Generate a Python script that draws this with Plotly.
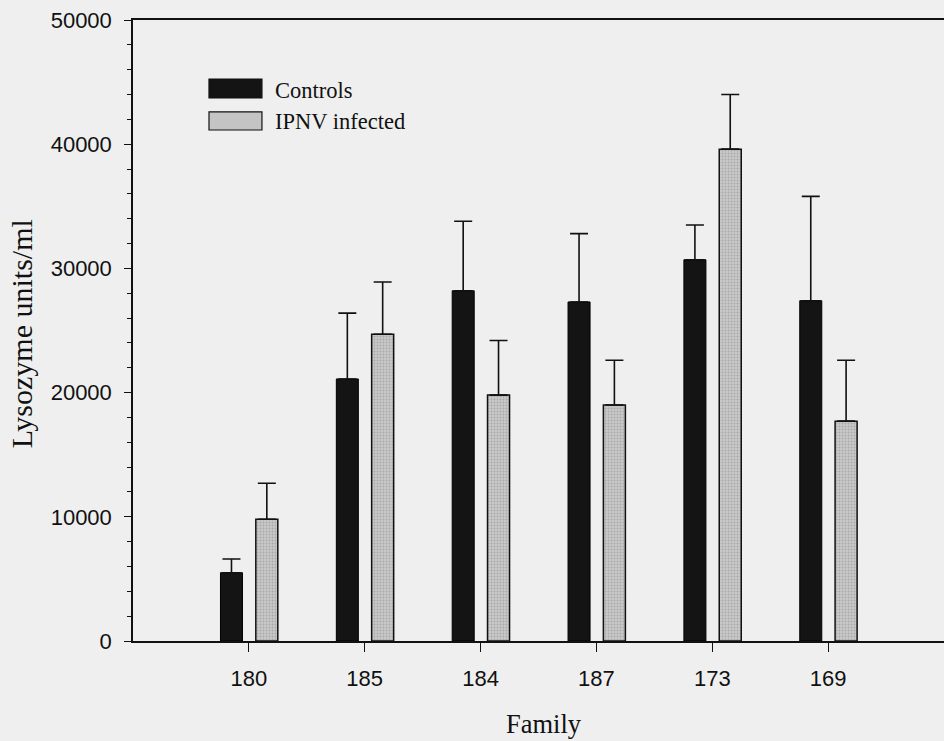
import plotly.graph_objects as go

families = ["180", "185", "184", "187", "173", "169"]
controls = [5500, 21100, 28200, 27300, 30700, 27400]
controls_err = [1100, 5300, 5600, 5500, 2800, 8400]
infected = [9800, 24700, 19800, 19000, 39600, 17700]
infected_err = [2900, 4200, 4400, 3600, 4400, 4900]
series_names = ["Controls", "IPNV infected"]

y_ticks = [0, 10000, 20000, 30000, 40000, 50000]

bg = "#efefef"
dark = "#141414"
grey = "#c4c4c4"
xpos = list(range(len(families)))

fig = go.Figure()
fig.add_trace(go.Bar(
    name=series_names[0], x=xpos, y=controls, width=0.19, offset=-0.245,
    marker=dict(color=dark, line=dict(color="#000000", width=1)),
    error_y=dict(type="data", array=controls_err, arrayminus=[0]*6, symmetric=False,
                 color="#111111", thickness=1.6, width=9),
))
fig.add_trace(go.Bar(
    name=series_names[1], x=xpos, y=infected, width=0.19, offset=0.06,
    marker=dict(color=grey, line=dict(color="#111111", width=1.5),
                pattern=dict(shape=".", fgcolor="#8a8a8a", bgcolor="#c8c8c8", size=3, solidity=0.3)),
    error_y=dict(type="data", array=infected_err, arrayminus=[0]*6, symmetric=False,
                 color="#111111", thickness=1.6, width=9),
))

# Legend drawn as swatches + text (paper coordinates)
legend_font = dict(family="Liberation Serif", size=22.5, color="#111")
swatches = [(0.905, 0.8745, dark), (0.8519, 0.8229, grey)]
text_y = [0.887, 0.836]
shapes = []
annotations = []
for (y1, y0, col), ty, nm in zip(swatches, text_y, series_names):
    shapes.append(dict(type="rect", xref="paper", yref="paper", x0=0.0937, x1=0.159,
                       y0=y0, y1=y1, fillcolor=col, line=dict(color="#111", width=1.2)))
    annotations.append(dict(text=nm, xref="paper", yref="paper", x=0.1725, y=ty,
                            xanchor="left", yanchor="middle", showarrow=False, font=legend_font))

annotations.append(dict(text="Lysozyme units/ml", xref="paper", yref="paper",
                        x=-0.138, y=0.494, textangle=-90, xanchor="center", yanchor="middle",
                        showarrow=False, font=dict(family="Liberation Serif", size=30, color="#111")))
annotations.append(dict(text="Family", xref="paper", yref="paper",
                        x=0.507, y=-0.134, xanchor="center", yanchor="middle",
                        showarrow=False, font=dict(family="Liberation Serif", size=26.5, color="#111")))

fig.update_layout(
    width=944, height=741,
    margin=dict(l=133, r=0, t=20, b=100),
    paper_bgcolor=bg, plot_bgcolor=bg,
    barmode="overlay",
    showlegend=False,
    shapes=shapes, annotations=annotations,
    font=dict(family="Liberation Sans", color="#111"),
)
fig.update_xaxes(
    range=[-1, 6], tickmode="array", tickvals=xpos, ticktext=families,
    showline=True, linecolor="#111", linewidth=1.5, mirror=True,
    ticks="outside", ticklen=9, tickcolor="#111", tickwidth=1,
    ticklabelstandoff=8, tickfont=dict(size=22, family="Liberation Sans"),
    showgrid=False, zeroline=False,
)
fig.update_yaxes(
    range=[0, 50000], tickvals=y_ticks, ticktext=[str(v) for v in y_ticks],
    showline=True, linecolor="#111", linewidth=1.5,
    ticks="outside", ticklen=7, tickcolor="#111", tickwidth=1.2,
    ticklabelstandoff=8,
    minor=dict(dtick=2000, ticks="outside", ticklen=4, tickcolor="#111", tickwidth=1),
    tickfont=dict(size=22, family="Liberation Sans"),
    showgrid=False, zeroline=False,
)

fig.write_html("out.html")
